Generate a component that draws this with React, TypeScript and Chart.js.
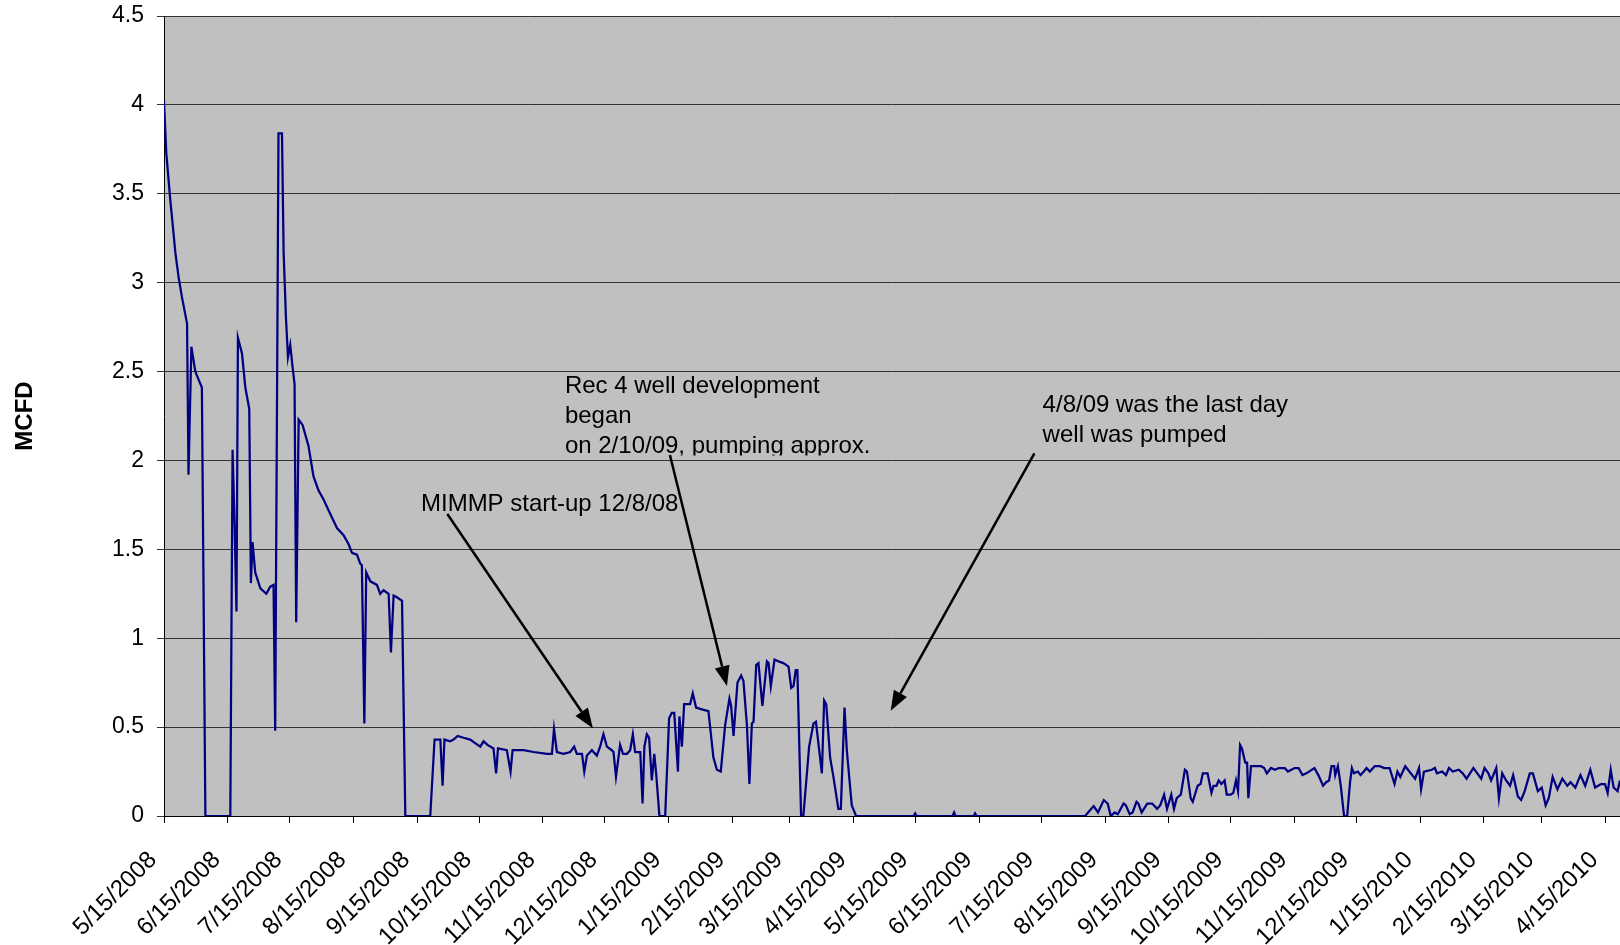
import React, { useEffect, useRef } from "react";
import { Chart, registerables } from "chart.js";

Chart.register(...registerables);

// ---------- data ----------
const BASE_DATE = "5/15/2008";

const xTickLabels = [
  "5/15/2008", "6/15/2008", "7/15/2008", "8/15/2008", "9/15/2008", "10/15/2008",
  "11/15/2008", "12/15/2008", "1/15/2009", "2/15/2009", "3/15/2009", "4/15/2009",
  "5/15/2009", "6/15/2009", "7/15/2009", "8/15/2009", "9/15/2009", "10/15/2009",
  "11/15/2009", "12/15/2009", "1/15/2010", "2/15/2010", "3/15/2010", "4/15/2010",
];

const yMin = 0;
const yMax = 4.5;
const yStep = 0.5;
const xEndDay = 707.1; // axis ends a week after 4/15/2010

// days after 5/15/2008
const days = [
  0, 1.1, 3.1, 4.2, 5.5, 7.1, 8.7, 11.2, 11.9, 13.3, 15.2, 18.4, 20.1, 32.2,
  33.3, 34.3, 35.2, 35.9, 37.9, 39.5, 41.4, 42.2, 43.0, 44.3, 46.8, 49.7, 51.6, 53.2, 54.0,
  55.6, 57.3, 58.1, 59.2, 60.2, 61.3, 62.4, 63.4, 64.2, 65.4, 67.3, 70.2, 72.6, 75.1, 77.5,
  80.7, 84.0, 87.2, 89.6, 91.3, 93.7, 95.3, 96.1, 97.3, 98.2, 100.2, 103.4, 105.0, 106.6, 109.1,
  110.2, 111.5, 113.1, 115.6, 117.2, 129.3, 131.4, 134.2, 135.3, 136.2, 139.0, 140.6, 142.6, 145.5, 148.7,
  151.1, 153.6, 155.2, 157.1, 160.0, 161.3, 162.2, 166.5, 168.3, 169.3, 174.6, 179.5, 186.0, 188.4, 189.4,
  190.8, 194.0, 197.3, 199.2, 200.5, 203.0, 204.1, 205.4, 207.8, 210.2, 211.8, 213.4, 215.1, 217.5, 218.3,
  219.5, 221.5, 222.9, 224.8, 226.4, 227.7, 228.8, 231.3, 232.4, 233.3, 234.5, 235.6, 236.9, 238.1, 239.0,
  240.6, 243.4, 245.3, 246.6, 247.8, 249.6, 250.3, 251.5, 252.6, 254.2, 255.5, 256.8, 258.4, 261.2, 264.4,
  265.7, 266.8, 268.5, 270.4, 272.5, 274.6, 275.4, 276.6, 278.5, 280.3, 281.4, 283.1, 284.3, 285.5, 286.3,
  287.6, 288.7, 290.6, 292.8, 293.6, 294.7, 296.5, 298.4, 300.8, 303.3, 304.6, 305.7, 306.8, 307.6, 309.4,
  310.5, 313.3, 315.4, 316.6, 319.5, 320.6, 321.6, 323.5, 325.1, 327.5, 328.7, 330.5, 331.6, 334.0, 336.1,
  364.0, 364.8, 365.6, 383.0, 383.7, 384.4, 393.2, 393.9, 394.6, 447.3,
  451.5, 453.6, 456.4, 458.3, 459.8, 461.7, 463.2, 466.0, 467.1, 469.0, 470.4, 472.3, 473.2, 474.8, 477.5,
  479.9, 482.3, 483.8, 485.7, 487.1, 489.2, 490.5, 491.8, 493.8, 495.8, 496.8, 498.6, 499.6, 502.0, 503.4,
  504.5, 506.8, 508.7, 509.7, 511.1, 512.2, 513.5, 515.1, 516.1, 518.0, 519.3, 520.6, 521.6, 522.6, 523.5,
  525.1, 526.0, 526.6, 527.9, 532.8, 534.3, 535.6, 537.6, 539.5, 541.4, 544.3, 545.8, 549.1, 551.0, 552.9,
  554.8, 558.7, 560.6, 562.9, 564.4, 565.8, 567.0, 568.3, 568.8, 570.1, 571.5, 573.1, 574.6, 576.0, 576.9,
  577.9, 579.8, 581.1, 582.7, 584.0, 585.6, 588.0, 590.4, 592.6, 595.2, 597.6, 599.0, 600.4, 602.8, 604.8,
  607.6, 609.5, 610.5, 611.9, 615.7, 617.2, 618.2, 620.7, 622.6, 624.0, 625.9, 628.8, 630.7, 632.6, 635.9,
  637.8, 639.7, 641.3, 643.2, 644.5, 647.0, 648.3, 649.9, 651.8, 653.7, 655.2, 657.5, 659.1, 660.8, 663.3,
  664.8, 667.2, 669.1, 671.0, 672.5, 674.4, 676.7, 679.1, 681.5, 683.1, 685.4, 687.9, 690.2, 692.7, 695.0,
  697.9, 699.8, 701.1, 702.6, 704.0, 705.9, 707.1,
];

const mcfd = [
  4.02, 3.73, 3.46, 3.33, 3.17, 3.03, 2.92, 2.77, 1.92, 2.64, 2.50, 2.41, 0, 0,
  2.06, 1.63, 1.15, 2.69, 2.60, 2.41, 2.29, 1.31, 1.54, 1.37, 1.28, 1.25, 1.29, 1.30, 0.48,
  3.84, 3.84, 3.17, 2.81, 2.58, 2.65, 2.53, 2.43, 1.09, 2.23, 2.20, 2.08, 1.91, 1.83, 1.78,
  1.70, 1.62, 1.58, 1.53, 1.48, 1.47, 1.42, 1.41, 0.52, 1.37, 1.32, 1.30, 1.25, 1.27, 1.25,
  0.92, 1.24, 1.23, 1.21, 0, 0, 0.43, 0.43, 0.17, 0.43, 0.42, 0.43, 0.45, 0.44, 0.43,
  0.41, 0.39, 0.42, 0.40, 0.38, 0.24, 0.38, 0.37, 0.25, 0.37, 0.37, 0.36, 0.35, 0.35, 0.49,
  0.36, 0.35, 0.36, 0.39, 0.35, 0.35, 0.25, 0.34, 0.37, 0.34, 0.39, 0.46, 0.39, 0.37, 0.36,
  0.22, 0.40, 0.35, 0.35, 0.37, 0.46, 0.36, 0.36, 0.07, 0.39, 0.46, 0.44, 0.20, 0.35, 0.24,
  0, 0, 0.55, 0.58, 0.58, 0.25, 0.56, 0.39, 0.63, 0.63, 0.63, 0.69, 0.61, 0.60, 0.59,
  0.45, 0.33, 0.26, 0.25, 0.51, 0.66, 0.62, 0.45, 0.75, 0.79, 0.76, 0.51, 0.18, 0.52, 0.53,
  0.85, 0.86, 0.62, 0.87, 0.86, 0.73, 0.88, 0.87, 0.86, 0.84, 0.72, 0.73, 0.82, 0.82, 0,
  0, 0.39, 0.52, 0.53, 0.24, 0.65, 0.63, 0.33, 0.22, 0.04, 0.04, 0.61, 0.37, 0.06, 0,
  0, 0.015, 0, 0, 0.02, 0, 0, 0.015, 0, 0,
  0.056, 0.02, 0.09, 0.07, 0, 0.02, 0.01, 0.07, 0.06, 0.01, 0.02, 0.08, 0.07, 0.02, 0.07,
  0.07, 0.04, 0.06, 0.12, 0.04, 0.12, 0.04, 0.10, 0.12, 0.26, 0.25, 0.10, 0.08, 0.17, 0.18,
  0.24, 0.24, 0.13, 0.17, 0.17, 0.20, 0.18, 0.20, 0.12, 0.12, 0.13, 0.20, 0.14, 0.40, 0.38,
  0.30, 0.30, 0.10, 0.28, 0.28, 0.27, 0.24, 0.27, 0.26, 0.27, 0.27, 0.25, 0.27, 0.27, 0.23,
  0.24, 0.27, 0.23, 0.17, 0.19, 0.20, 0.28, 0.28, 0.23, 0.28, 0.17, 0, 0, 0.19, 0.27,
  0.24, 0.25, 0.23, 0.25, 0.27, 0.25, 0.28, 0.28, 0.27, 0.27, 0.18, 0.25, 0.22, 0.28, 0.25,
  0.21, 0.27, 0.15, 0.25, 0.26, 0.27, 0.24, 0.25, 0.23, 0.27, 0.25, 0.26, 0.24, 0.21, 0.27,
  0.24, 0.21, 0.27, 0.24, 0.20, 0.27, 0.10, 0.24, 0.20, 0.17, 0.23, 0.11, 0.09, 0.14, 0.24,
  0.24, 0.14, 0.16, 0.06, 0.10, 0.22, 0.15, 0.21, 0.17, 0.19, 0.16, 0.23, 0.17, 0.26, 0.16,
  0.18, 0.18, 0.13, 0.26, 0.16, 0.14, 0.20,
];

// annotation texts
const noteMimmp = ["MIMMP start-up 12/8/08"];
const noteRec4 = ["Rec 4 well development", "began", "on 2/10/09, pumping approx."];
const noteLastDay = ["4/8/09 was the last day", "well was pumped"];

// ---------- helpers ----------
function parseMDY(s: string) {
  const [m, d, y] = s.split("/").map(Number);
  return Date.UTC(y, m - 1, d);
}
const dayOf = (s: string) => Math.round((parseMDY(s) - parseMDY(BASE_DATE)) / 86400000);
const xTickDays = xTickLabels.map(dayOf);

const FONT = '"Liberation Sans", Arial, Helvetica, sans-serif';

// annotation placement in data coordinates (day, MCFD)
const notes = [
  { lines: noteMimmp, x: 124.8, y: 1.718, clip: null as number | null, from: [137.6, 1.699], to: [208.3, 0.493] },
  { lines: noteRec4, x: 194.7, y: 2.379, clip: 2.028, from: [245.7, 2.031], to: [273.4, 0.731] },
  { lines: noteLastDay, x: 426.7, y: 2.272, clip: null as number | null, from: [422.7, 2.040], to: [352.9, 0.592] },
];

const bgPlugin = {
  id: "plotBg",
  beforeDraw(chart: any) {
    const { ctx, chartArea } = chart;
    ctx.save();
    ctx.fillStyle = "#C0C0C0";
    ctx.fillRect(chartArea.left, chartArea.top, chartArea.right - chartArea.left, chartArea.bottom - chartArea.top);
    ctx.restore();
  },
};

function drawArrow(ctx: CanvasRenderingContext2D, x1: number, y1: number, x2: number, y2: number) {
  const ang = Math.atan2(y2 - y1, x2 - x1);
  const headLen = 20;
  const headHalf = 7.5;
  const bx = x2 - headLen * Math.cos(ang);
  const by = y2 - headLen * Math.sin(ang);
  ctx.beginPath();
  ctx.moveTo(x1, y1);
  ctx.lineTo(bx, by);
  ctx.lineWidth = 2.5;
  ctx.strokeStyle = "#000";
  ctx.stroke();
  ctx.beginPath();
  ctx.moveTo(x2, y2);
  ctx.lineTo(bx + headHalf * Math.sin(ang), by - headHalf * Math.cos(ang));
  ctx.lineTo(bx - headHalf * Math.sin(ang), by + headHalf * Math.cos(ang));
  ctx.closePath();
  ctx.fillStyle = "#000";
  ctx.fill();
}

const notesPlugin = {
  id: "notes",
  afterDatasetsDraw(chart: any) {
    const { ctx } = chart;
    const xs = chart.scales.x;
    const ys = chart.scales.y;
    ctx.save();
    ctx.font = `24px ${FONT}`;
    ctx.textBaseline = "alphabetic";
    ctx.textAlign = "left";
    for (const n of notes) {
      ctx.save();
      if (n.clip != null) {
        ctx.beginPath();
        ctx.rect(0, 0, chart.width, ys.getPixelForValue(n.clip));
        ctx.clip();
      }
      ctx.fillStyle = "#000";
      const px = xs.getPixelForValue(n.x);
      const py = ys.getPixelForValue(n.y);
      n.lines.forEach((t, i) => ctx.fillText(t, px, py + i * 30));
      ctx.restore();
      drawArrow(
        ctx,
        xs.getPixelForValue(n.from[0]),
        ys.getPixelForValue(n.from[1]),
        xs.getPixelForValue(n.to[0]),
        ys.getPixelForValue(n.to[1])
      );
    }
    ctx.restore();
  },
};

export default function App() {
  const ref = useRef<HTMLCanvasElement | null>(null);

  useEffect(() => {
    document.body.style.margin = "0";
    const canvas = ref.current;
    if (!canvas) return;
    const points = days.map((d, i) => ({ x: d, y: mcfd[i] }));
    const chart = new Chart(canvas, {
      type: "line",
      data: {
        datasets: [
          {
            label: "MCFD",
            data: points,
            borderColor: "#000080",
            borderWidth: 2.25,
            pointRadius: 0,
            tension: 0,
            fill: false,
          },
        ],
      },
      options: {
        animation: false,
        responsive: false,
        devicePixelRatio: 1,
        layout: { padding: { top: 16, right: 0, left: 0, bottom: 0 } },
        plugins: { legend: { display: false }, tooltip: { enabled: false } },
        scales: {
          x: {
            type: "linear",
            min: 0,
            max: xEndDay,
            afterBuildTicks: (scale: any) => {
              scale.ticks = xTickDays.map((v) => ({ value: v }));
            },
            afterFit: (scale: any) => {
              scale.height = 129;
              scale.paddingLeft = 0;
              scale.paddingRight = 0;
            },
            grid: { drawOnChartArea: false, drawTicks: true, tickLength: 7, color: "#000" },
            border: { display: true, color: "#000", width: 1 },
            ticks: {
              autoSkip: false,
              minRotation: 45,
              maxRotation: 45,
              padding: 23,
              labelOffset: -11,
              color: "#000",
              font: { family: FONT, size: 24 },
              callback: (_v: any, i: number) => xTickLabels[i],
            },
          },
          y: {
            min: yMin,
            max: yMax,
            afterFit: (scale: any) => {
              scale.width = 164;
              scale.paddingTop = 0;
              scale.paddingBottom = 0;
            },
            grid: { color: "#333", tickLength: 7, drawTicks: true, lineWidth: 1 },
            border: { display: true, color: "#000", width: 1 },
            ticks: {
              stepSize: yStep,
              padding: 13,
              color: "#000",
              font: { family: FONT, size: 23 },
              callback: (v: any) => String(v),
            },
            title: {
              display: true,
              text: "MCFD",
              color: "#000",
              font: { family: FONT, size: 24, weight: "bold" },
              padding: { top: 11, bottom: 0 },
            },
          },
        },
      },
      plugins: [bgPlugin, notesPlugin],
    } as any);
    return () => chart.destroy();
  }, []);

  return (
    <div style={{ position: "absolute", left: 0, top: 0, width: 1620, height: 945 }}>
      <canvas ref={ref} width={1620} height={945} style={{ display: "block", width: 1620, height: 945 }} />
    </div>
  );
}
